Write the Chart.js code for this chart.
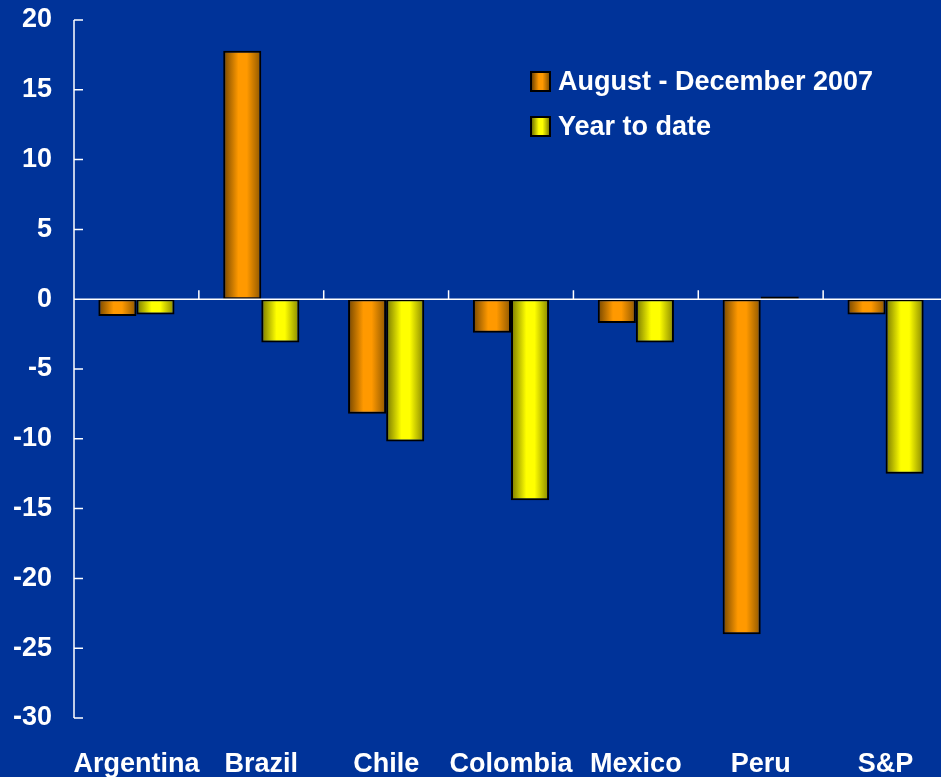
<!DOCTYPE html>
<html>
<head>
<meta charset="utf-8">
<script src="https://cdn.jsdelivr.net/npm/chart.js@4"></script>
<style>
  html, body { margin: 0; padding: 0; background: #003399; overflow: hidden; }
  #wrap { position: relative; width: 941px; height: 777px; overflow: hidden; }
  #chart { position: absolute; left: 0; top: 0; }
  .legend { position: absolute; left: 530px; top: 59px; font: bold 27px "Liberation Sans", Arial, sans-serif; color: #fff; }
  .legend .row { display: flex; align-items: center; height: 45px; }
  .legend .box { width: 17px; height: 17px; border: 2px solid #000; margin-right: 7px; }
</style>
</head>
<body>
<div id="wrap">
  <canvas id="chart" width="948" height="777"></canvas>
  <div class="legend" id="legend"></div>
</div>
<script>
const countries = ['Argentina', 'Brazil', 'Chile', 'Colombia', 'Mexico', 'Peru', 'S&P'];
const augDec2007 = [-1.2, 17.8, -8.2, -2.4, -1.7, -24.0, -1.1];
const yearToDate = [-1.1, -3.1, -10.2, -14.4, -3.1, 0.2, -12.5];
const seriesNames = ['August - December 2007', 'Year to date'];

const orangeStops = [[0, '#744600'], [0.4, '#ff9900'], [0.62, '#ff9900'], [1, '#8c5600']];
const yellowStops = [[0, '#767600'], [0.4, '#ffff00'], [0.62, '#ffff00'], [1, '#868600']];
const CAT_PCT = 0.61;

function barGradient(ctx, dsIndex, stops) {
    const chart = ctx.chart;
    const xs = chart.scales.x;
    if (!xs || !chart.chartArea || ctx.dataIndex === undefined) return stops[1][1];
    const barW = xs.width / countries.length * CAT_PCT / 2;
    const c = xs.getPixelForValue(ctx.dataIndex);
    const left = dsIndex === 0 ? c - barW : c;
    const g = chart.ctx.createLinearGradient(left, 0, left + barW, 0);
    stops.forEach(s => g.addColorStop(s[0], s[1]));
    return g;
}

// white axis line, inner tick marks and zero line
const axisMarks = {
    id: 'axisMarks',
    afterDatasetsDraw(chart) {
        const { ctx, chartArea, scales } = chart;
        const x = scales.x, y = scales.y;
        const y0 = y.getPixelForValue(0);
        ctx.save();
        ctx.strokeStyle = '#ffffff';
        ctx.lineWidth = 1.5;
        ctx.beginPath();
        ctx.moveTo(chartArea.left, y.getPixelForValue(20));
        ctx.lineTo(chartArea.left, y.getPixelForValue(-30));
        y.ticks.forEach(t => {
            const py = y.getPixelForValue(t.value);
            ctx.moveTo(chartArea.left, py);
            ctx.lineTo(chartArea.left + 9, py);
        });
        ctx.moveTo(chartArea.left, y0);
        ctx.lineTo(chartArea.right, y0);
        for (let i = 0; i < countries.length - 1; i++) {
            const px = x.getPixelForValue(i + 0.5);
            ctx.moveTo(px, y0);
            ctx.lineTo(px, y0 - 9);
        }
        ctx.stroke();
        ctx.restore();
    }
};

const font = { family: '"Liberation Sans", Arial, sans-serif', size: 27, weight: 'bold' };

new Chart(document.getElementById('chart'), {
    type: 'bar',
    data: {
        labels: countries,
        datasets: [
            {
                label: seriesNames[0],
                data: augDec2007,
                backgroundColor: ctx => barGradient(ctx, 0, orangeStops),
                borderColor: '#000000',
                borderWidth: 2,
                borderSkipped: false
            },
            {
                label: seriesNames[1],
                data: yearToDate,
                backgroundColor: ctx => barGradient(ctx, 1, yellowStops),
                borderColor: '#000000',
                borderWidth: 2,
                borderSkipped: false
            }
        ]
    },
    options: {
        responsive: false,
        animation: false,
        categoryPercentage: CAT_PCT,
        barPercentage: 1,
        layout: { padding: { top: 20, right: 0, left: 0, bottom: 0 } },
        plugins: { legend: { display: false }, tooltip: { enabled: false } },
        scales: {
            x: {
                grid: { display: false, drawTicks: false },
                border: { display: false },
                ticks: { color: '#ffffff', font: font, padding: 30, maxRotation: 0, autoSkip: false },
                afterFit(scale) { scale.height = 59; }
            },
            y: {
                min: -30,
                max: 20,
                grid: { display: false, drawTicks: false },
                border: { display: false },
                ticks: { stepSize: 5, color: '#ffffff', font: font, padding: 22 },
                afterFit(scale) {
                    scale.width = 74;
                    scale.paddingTop = 0;
                    scale.paddingBottom = 0;
                }
            }
        }
    },
    plugins: [axisMarks]
});

// legend with the same gradient swatches
const legendEl = document.getElementById('legend');
[orangeStops, yellowStops].forEach((stops, i) => {
    const row = document.createElement('div');
    row.className = 'row';
    const box = document.createElement('span');
    box.className = 'box';
    box.style.background = 'linear-gradient(to right, ' + stops.map(s => s[1] + ' ' + (s[0] * 100) + '%').join(', ') + ')';
    const txt = document.createElement('span');
    txt.textContent = seriesNames[i];
    row.appendChild(box);
    row.appendChild(txt);
    legendEl.appendChild(row);
});
</script>
</body>
</html>
